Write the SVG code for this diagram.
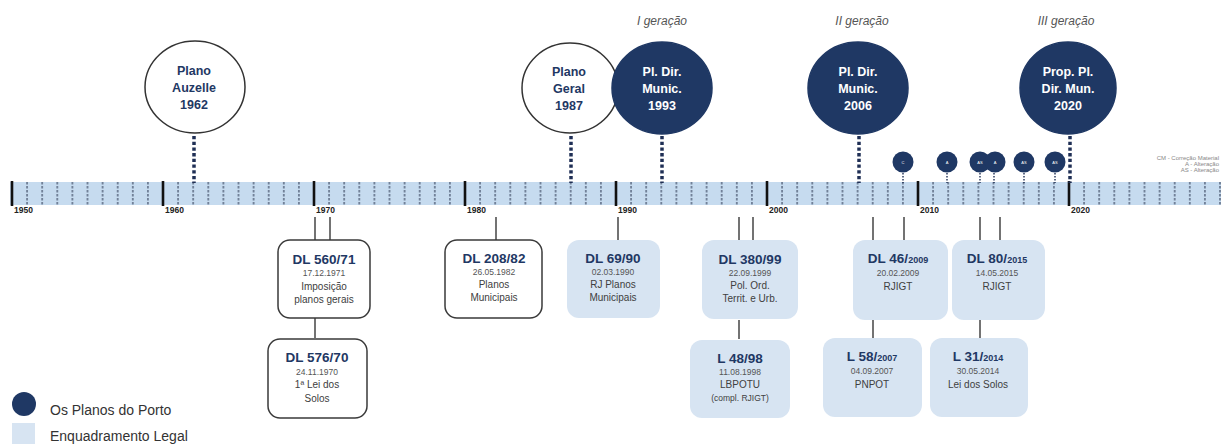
<svg xmlns="http://www.w3.org/2000/svg" width="1223" height="444" viewBox="0 0 1223 444">
  <defs>
    <!-- one dashed tick per year, 15.1 px apart -->
    <pattern id="yearTicks" patternUnits="userSpaceOnUse" x="4.45" y="182" width="15.1" height="23">
      <line x1="7.55" y1="0" x2="7.55" y2="23" stroke="#26324d" stroke-width="1" stroke-dasharray="2.5 1.5"/>
    </pattern>
  </defs>
  <style>
    .navyFill { fill: #1f3864; }
    .plan-dark { fill: #1f3864; stroke: #1f3864; stroke-width: 1.5; }
    .plan-light { fill: #ffffff; stroke: #333333; stroke-width: 1.5; }
    .plan-txt-w { font-family: "Liberation Sans", Arial, sans-serif; font-weight: bold; font-size: 12.5px; fill: #ffffff; text-anchor: middle; }
    .plan-txt-n { font-family: "Liberation Sans", Arial, sans-serif; font-weight: bold; font-size: 12.5px; fill: #1f3864; text-anchor: middle; }
    .gen { font-family: "Liberation Sans", Arial, sans-serif; font-style: italic; font-size: 12px; fill: #555555; text-anchor: middle; }
    .dots { stroke: #1f2f55; stroke-width: 3.5; stroke-dasharray: 3.3 2.4; fill: none; }
    .dots-s { stroke: #1f2f55; stroke-width: 1.4; stroke-dasharray: 1.5 1.5; fill: none; }
    .decade { stroke: #111111; stroke-width: 2.6; }
    .yr { font-family: "Liberation Sans", Arial, sans-serif; font-weight: bold; font-size: 8.5px; fill: #222222; }
    .law-w { fill: #ffffff; stroke: #3a3a3a; stroke-width: 1.5; }
    .law-b { fill: #d7e4f2; stroke: none; }
    .conn { stroke: #444444; stroke-width: 1.5; fill: none; }
    .ttl { font-family: "Liberation Sans", Arial, sans-serif; font-weight: bold; font-size: 13.5px; fill: #1f3864; text-anchor: middle; }
    .ttl-s { font-size: 9px; }
    .date { font-family: "Liberation Sans", Arial, sans-serif; font-size: 8.5px; fill: #555555; text-anchor: middle; }
    .desc { font-family: "Liberation Sans", Arial, sans-serif; font-size: 10px; fill: #404040; text-anchor: middle; }
    .mini { font-family: "Liberation Sans", Arial, sans-serif; font-size: 4px; fill: #ffffff; text-anchor: middle; }
    .key { font-family: "Liberation Sans", Arial, sans-serif; font-size: 6px; fill: #888888; text-anchor: end; }
    .legend { font-family: "Liberation Sans", Arial, sans-serif; font-size: 14px; fill: #333333; }
  </style>

  <rect width="1223" height="444" fill="#ffffff"/>

  <!-- timeline bar 1950-2030 -->
  <g id="timeline">
    <rect x="10" y="182" width="1211" height="23" fill="#c6dbef"/>
    <rect x="10" y="182" width="1211" height="23" fill="url(#yearTicks)"/>
    <line class="decade" x1="12" y1="181" x2="12" y2="206"/>
    <line class="decade" x1="163" y1="181" x2="163" y2="206"/>
    <line class="decade" x1="314" y1="181" x2="314" y2="206"/>
    <line class="decade" x1="465" y1="181" x2="465" y2="206"/>
    <line class="decade" x1="616" y1="181" x2="616" y2="206"/>
    <line class="decade" x1="767" y1="181" x2="767" y2="206"/>
    <line class="decade" x1="918" y1="181" x2="918" y2="206"/>
    <line class="decade" x1="1069" y1="181" x2="1069" y2="206"/>
    <text class="yr" x="14" y="213">1950</text>
    <text class="yr" x="165" y="213">1960</text>
    <text class="yr" x="316" y="213">1970</text>
    <text class="yr" x="467" y="213">1980</text>
    <text class="yr" x="618" y="213">1990</text>
    <text class="yr" x="769" y="213">2000</text>
    <text class="yr" x="920" y="213">2010</text>
    <text class="yr" x="1071" y="213">2020</text>
  </g>

  <!-- connectors: dotted drops from plans, solid links to laws -->
  <g id="connectors">
    <line class="dots" x1="194" y1="136" x2="194" y2="183"/>
    <line class="dots" x1="571" y1="136" x2="571" y2="183"/>
    <line class="dots" x1="662" y1="136" x2="662" y2="183"/>
    <line class="dots" x1="859" y1="136" x2="859" y2="183"/>
    <line class="dots" x1="1070" y1="136" x2="1070" y2="183"/>
    <line class="dots-s" x1="903" y1="173" x2="903" y2="183"/>
    <line class="dots-s" x1="947" y1="173" x2="947" y2="183"/>
    <line class="dots-s" x1="980" y1="173" x2="980" y2="183"/>
    <line class="dots-s" x1="994" y1="173" x2="994" y2="183"/>
    <line class="dots-s" x1="1024" y1="173" x2="1024" y2="183"/>
    <line class="dots-s" x1="1055" y1="173" x2="1055" y2="183"/>

    <line class="conn" x1="315" y1="217" x2="315" y2="240"/>
    <line class="conn" x1="330" y1="217" x2="330" y2="240"/>
    <line class="conn" x1="315" y1="318" x2="315" y2="338"/>
    <line class="conn" x1="496" y1="217" x2="496" y2="240"/>
    <line class="conn" x1="618" y1="217" x2="618" y2="240"/>
    <line class="conn" x1="739" y1="217" x2="739" y2="240"/>
    <line class="conn" x1="753" y1="217" x2="753" y2="240"/>
    <line class="conn" x1="739" y1="320" x2="739" y2="339"/>
    <line class="conn" x1="873" y1="217" x2="873" y2="240"/>
    <line class="conn" x1="904" y1="217" x2="904" y2="240"/>
    <line class="conn" x1="980" y1="217" x2="980" y2="240"/>
    <line class="conn" x1="1000" y1="217" x2="1000" y2="240"/>
    <line class="conn" x1="873" y1="320" x2="873" y2="338"/>
    <line class="conn" x1="980" y1="320" x2="980" y2="338"/>
  </g>

  <!-- plans of Porto -->
  <g id="plano-auzelle">
    <ellipse class="plan-light" cx="195" cy="87" rx="50" ry="46"/>
    <text class="plan-txt-n" x="194" y="75">Plano</text>
    <text class="plan-txt-n" x="194" y="92">Auzelle</text>
    <text class="plan-txt-n" x="194" y="109">1962</text>
  </g>
  <g id="plano-geral">
    <ellipse class="plan-light" cx="570" cy="88" rx="48" ry="45"/>
    <text class="plan-txt-n" x="569" y="76">Plano</text>
    <text class="plan-txt-n" x="569" y="93">Geral</text>
    <text class="plan-txt-n" x="569" y="110">1987</text>
  </g>
  <g id="pdm-1993">
    <text class="gen" x="662" y="25">I geração</text>
    <ellipse class="plan-dark" cx="662" cy="88" rx="50" ry="46"/>
    <text class="plan-txt-w" x="662" y="76">Pl. Dir.</text>
    <text class="plan-txt-w" x="662" y="93">Munic.</text>
    <text class="plan-txt-w" x="662" y="110">1993</text>
  </g>
  <g id="pdm-2006">
    <text class="gen" x="862" y="25">II geração</text>
    <ellipse class="plan-dark" cx="858" cy="88" rx="50" ry="46"/>
    <text class="plan-txt-w" x="858" y="76">Pl. Dir.</text>
    <text class="plan-txt-w" x="858" y="93">Munic.</text>
    <text class="plan-txt-w" x="858" y="110">2006</text>
  </g>
  <g id="ppdm-2020">
    <text class="gen" x="1066" y="25">III geração</text>
    <ellipse class="plan-dark" cx="1068" cy="88" rx="48" ry="46"/>
    <text class="plan-txt-w" x="1068" y="76">Prop. Pl.</text>
    <text class="plan-txt-w" x="1068" y="93">Dir. Mun.</text>
    <text class="plan-txt-w" x="1068" y="110">2020</text>
  </g>

  <!-- PDM amendments -->
  <g id="amendments">
    <circle class="navyFill" cx="903" cy="162" r="10.5"/>
    <text class="mini" x="903" y="163.5">C</text>
    <circle class="navyFill" cx="947" cy="162" r="10.5"/>
    <text class="mini" x="947" y="163.5">A</text>
    <circle class="navyFill" cx="980" cy="162" r="10.5"/>
    <text class="mini" x="980" y="163.5">AS</text>
    <circle class="navyFill" cx="995" cy="162" r="10.5"/>
    <text class="mini" x="995" y="163.5">A</text>
    <circle class="navyFill" cx="1024" cy="162" r="10.5"/>
    <text class="mini" x="1024" y="163.5">AS</text>
    <circle class="navyFill" cx="1055" cy="162" r="10.5"/>
    <text class="mini" x="1055" y="163.5">AS</text>
  </g>
  <g id="amendment-key">
    <text class="key" x="1219" y="160">CM - Correção Material</text>
    <text class="key" x="1219" y="166">A - Alteração</text>
    <text class="key" x="1219" y="172">AS - Alteração</text>
  </g>

  <!-- legal framework -->
  <g id="dl-560-71">
    <rect class="law-w" x="278" y="240" width="92" height="78" rx="12"/>
    <text class="ttl" x="324" y="264">DL 560/71</text>
    <text class="date" x="324" y="276">17.12.1971</text>
    <text class="desc" x="324" y="290">Imposição</text>
    <text class="desc" x="324" y="303">planos gerais</text>
  </g>
  <g id="dl-576-70">
    <rect class="law-w" x="268" y="339" width="99" height="79" rx="12"/>
    <text class="ttl" x="317" y="362">DL 576/70</text>
    <text class="date" x="317" y="375">24.11.1970</text>
    <text class="desc" x="317" y="388">1ª Lei dos</text>
    <text class="desc" x="317" y="402">Solos</text>
  </g>
  <g id="dl-208-82">
    <rect class="law-w" x="445" y="240" width="97" height="78" rx="12"/>
    <text class="ttl" x="494" y="263">DL 208/82</text>
    <text class="date" x="494" y="275">26.05.1982</text>
    <text class="desc" x="494" y="288">Planos</text>
    <text class="desc" x="494" y="301">Municipais</text>
  </g>
  <g id="dl-69-90">
    <rect class="law-b" x="567" y="240" width="93" height="78" rx="12"/>
    <text class="ttl" x="613" y="263">DL 69/90</text>
    <text class="date" x="613" y="275">02.03.1990</text>
    <text class="desc" x="613" y="288">RJ Planos</text>
    <text class="desc" x="613" y="301">Municipais</text>
  </g>
  <g id="dl-380-99">
    <rect class="law-b" x="702" y="240" width="96" height="79" rx="12"/>
    <text class="ttl" x="750" y="264">DL 380/99</text>
    <text class="date" x="750" y="276">22.09.1999</text>
    <text class="desc" x="750" y="289">Pol. Ord.</text>
    <text class="desc" x="750" y="302">Territ. e Urb.</text>
  </g>
  <g id="l-48-98">
    <rect class="law-b" x="690" y="340" width="100" height="78" rx="12"/>
    <text class="ttl" x="740" y="363">L 48/98</text>
    <text class="date" x="740" y="375">11.08.1998</text>
    <text class="desc" x="740" y="388">LBPOTU</text>
    <text class="desc" x="740" y="401" style="font-size:8.5px">(compl. RJIGT)</text>
  </g>
  <g id="dl-46-2009">
    <rect class="law-b" x="853" y="240" width="95" height="80" rx="12"/>
    <text class="ttl" x="898" y="263">DL 46/<tspan class="ttl-s">2009</tspan></text>
    <text class="date" x="898" y="276">20.02.2009</text>
    <text class="desc" x="898" y="290">RJIGT</text>
  </g>
  <g id="dl-80-2015">
    <rect class="law-b" x="952" y="240" width="93" height="80" rx="12"/>
    <text class="ttl" x="997" y="263">DL 80/<tspan class="ttl-s">2015</tspan></text>
    <text class="date" x="997" y="276">14.05.2015</text>
    <text class="desc" x="997" y="290">RJIGT</text>
  </g>
  <g id="l-58-2007">
    <rect class="law-b" x="823" y="338" width="99" height="79" rx="12"/>
    <text class="ttl" x="872" y="361">L 58/<tspan class="ttl-s">2007</tspan></text>
    <text class="date" x="872" y="374">04.09.2007</text>
    <text class="desc" x="872" y="388">PNPOT</text>
  </g>
  <g id="l-31-2014">
    <rect class="law-b" x="930" y="338" width="98" height="79" rx="12"/>
    <text class="ttl" x="978" y="361">L 31/<tspan class="ttl-s">2014</tspan></text>
    <text class="date" x="978" y="374">30.05.2014</text>
    <text class="desc" x="978" y="388">Lei dos Solos</text>
  </g>

  <!-- legend -->
  <g id="legend">
    <circle class="navyFill" cx="24" cy="404" r="12"/>
    <text class="legend" x="50" y="415">Os Planos do Porto</text>
    <rect x="12" y="423" width="23" height="21" fill="#d7e4f2"/>
    <text class="legend" x="50" y="441">Enquadramento Legal</text>
  </g>
</svg>
